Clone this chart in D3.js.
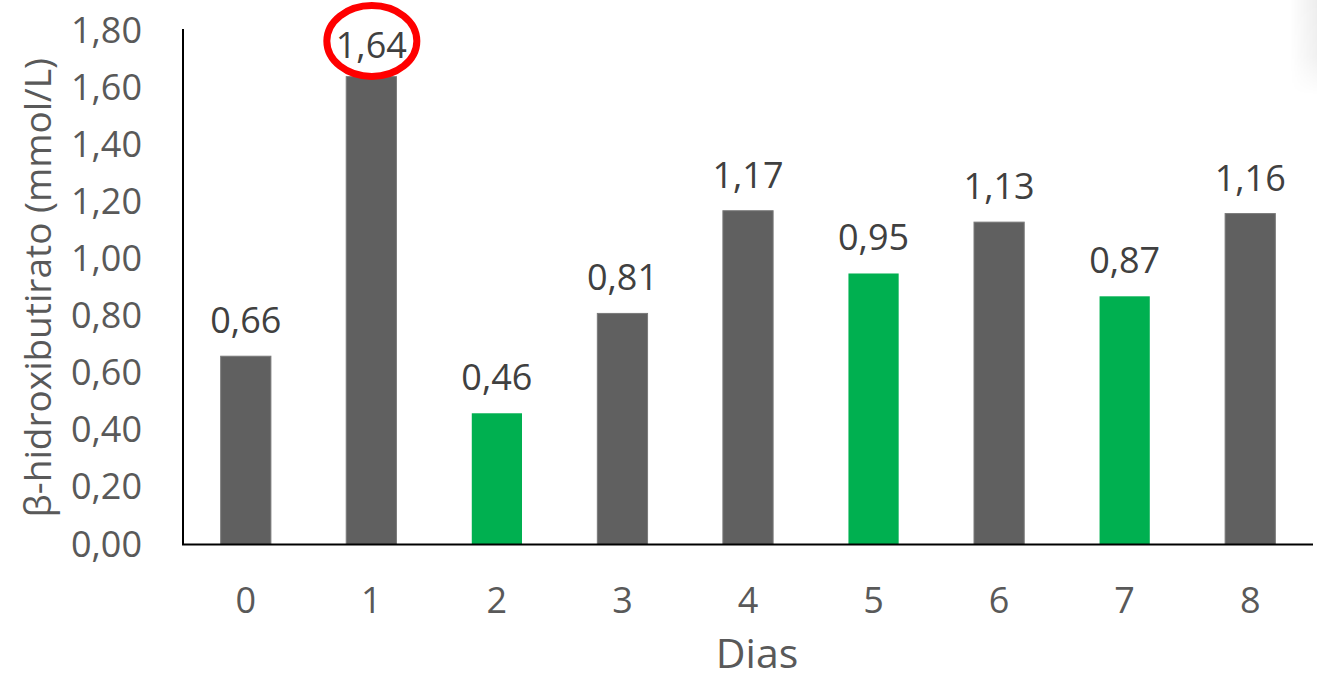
<!DOCTYPE html>
<html>
<head>
<meta charset="utf-8">
<script src="https://cdn.jsdelivr.net/npm/d3@7"></script>
<style>
  html, body { margin: 0; padding: 0; background: #fff; }
  svg { display: block; }
</style>
</head>
<body>
<svg id="chart" width="1317" height="681"></svg>
<script>
// β-hidroxibutirato por dia
const dias = ["0", "1", "2", "3", "4", "5", "6", "7", "8"];
const valores = [0.66, 1.64, 0.46, 0.81, 1.17, 0.95, 1.13, 0.87, 1.16];
const destaque = [false, false, true, false, false, true, false, true, false];
const yTicks = [0, 0.2, 0.4, 0.6, 0.8, 1.0, 1.2, 1.4, 1.6, 1.8];
const diaCircundado = "1";

const W = 1317, H = 681;
const margin = { left: 183, right: 4, top: 31, bottom: 137 };
const font = "'Open Sans', 'Noto Sans', sans-serif";

const svg = d3.select("#chart");

// soft shadow at the upper right edge
const defs = svg.append("defs");
const gH = defs.append("linearGradient").attr("id", "shadeH").attr("x1", 0).attr("x2", 1).attr("y1", 0).attr("y2", 0);
gH.append("stop").attr("offset", "0%").attr("stop-color", "#000").attr("stop-opacity", 0);
gH.append("stop").attr("offset", "100%").attr("stop-color", "#000").attr("stop-opacity", 0.07);
const mask = defs.append("linearGradient").attr("id", "shadeV").attr("x1", 0).attr("x2", 0).attr("y1", 0).attr("y2", 1);
mask.append("stop").attr("offset", "0%").attr("stop-color", "#fff").attr("stop-opacity", 1);
mask.append("stop").attr("offset", "60%").attr("stop-color", "#fff").attr("stop-opacity", 0.8);
mask.append("stop").attr("offset", "100%").attr("stop-color", "#fff").attr("stop-opacity", 0);
defs.append("mask").attr("id", "shadeMask")
  .append("rect").attr("x", 1290).attr("y", 0).attr("width", 27).attr("height", 95).attr("fill", "url(#shadeV)");
svg.append("rect").attr("x", 1290).attr("y", 0).attr("width", 27).attr("height", 95)
  .attr("fill", "url(#shadeH)").attr("mask", "url(#shadeMask)");

const x = d3.scaleBand()
  .domain(dias)
  .range([margin.left, W - margin.right])
  .paddingInner(0.6)
  .paddingOuter(0.3);

const y = d3.scaleLinear()
  .domain([0, 1.8])
  .range([H - margin.bottom + 0.5, margin.top]);

const fmt = v => d3.format(".2f")(v).replace(".", ",");

// Y axis labels (no tick marks)
const yAxis = d3.axisLeft(y).tickValues(yTicks).tickFormat(fmt).tickSize(0).tickPadding(41);
const gy = svg.append("g").attr("transform", `translate(${margin.left},0)`).call(yAxis);
gy.select(".domain").remove();
gy.selectAll("text")
  .attr("font-family", font).attr("font-size", 36).attr("fill", "#595959");

// bars
svg.append("g").selectAll("rect")
  .data(valores)
  .join("rect")
  .attr("x", (d, i) => x(dias[i]))
  .attr("width", x.bandwidth())
  .attr("y", d => y(d))
  .attr("height", d => y(0) - y(d))
  .attr("fill", (d, i) => destaque[i] ? "#00b050" : "#606060")
  .attr("stroke", (d, i) => destaque[i] ? "none" : "#7a7a7a")
  .attr("stroke-width", 1);

// axis lines
svg.append("line")
  .attr("x1", margin.left).attr("x2", margin.left)
  .attr("y1", margin.top - 2).attr("y2", y(0))
  .attr("stroke", "#000").attr("stroke-width", 2);
svg.append("line")
  .attr("x1", margin.left - 1).attr("x2", W - margin.right)
  .attr("y1", y(0)).attr("y2", y(0))
  .attr("stroke", "#000").attr("stroke-width", 2);

// X axis labels
const xAxis = d3.axisBottom(x).tickSize(0).tickPadding(0);
const gx = svg.append("g").attr("transform", `translate(0,${y(0)})`).call(xAxis);
gx.select(".domain").remove();
gx.selectAll("text")
  .attr("y", 0).attr("dy", null)
  .attr("transform", "translate(0,68)")
  .attr("font-family", font).attr("font-size", 36).attr("fill", "#595959");

// value labels above bars (kept inside the plot area)
const labelY = d => Math.max(y(d) - 23, 58);
svg.append("g").selectAll("text")
  .data(valores)
  .join("text")
  .attr("x", (d, i) => x(dias[i]) + x.bandwidth() / 2)
  .attr("y", d => labelY(d))
  .attr("text-anchor", "middle")
  .attr("font-family", font).attr("font-size", 36).attr("fill", "#404040")
  .text(d => fmt(d));

// red ellipse around the highlighted value
const iC = dias.indexOf(diaCircundado);
svg.append("ellipse")
  .attr("cx", x(diaCircundado) + x.bandwidth() / 2 + 0.5)
  .attr("cy", labelY(valores[iC]) - 17)
  .attr("rx", 45)
  .attr("ry", 35.5)
  .attr("fill", "none")
  .attr("stroke", "#ff0000")
  .attr("stroke-width", 7);

// axis titles
svg.append("text")
  .attr("transform", `translate(51,${(margin.top + y(0)) / 2}) rotate(-90)`)
  .attr("text-anchor", "middle")
  .attr("font-family", font).attr("font-size", 37).attr("fill", "#595959")
  .text("β-hidroxibutirato (mmol/L)");

svg.append("text")
  .attr("x", (margin.left + W - margin.right) / 2 + 9)
  .attr("y", 668)
  .attr("text-anchor", "middle")
  .attr("font-family", font).attr("font-size", 41).attr("fill", "#595959")
  .text("Dias");
</script>
</body>
</html>
